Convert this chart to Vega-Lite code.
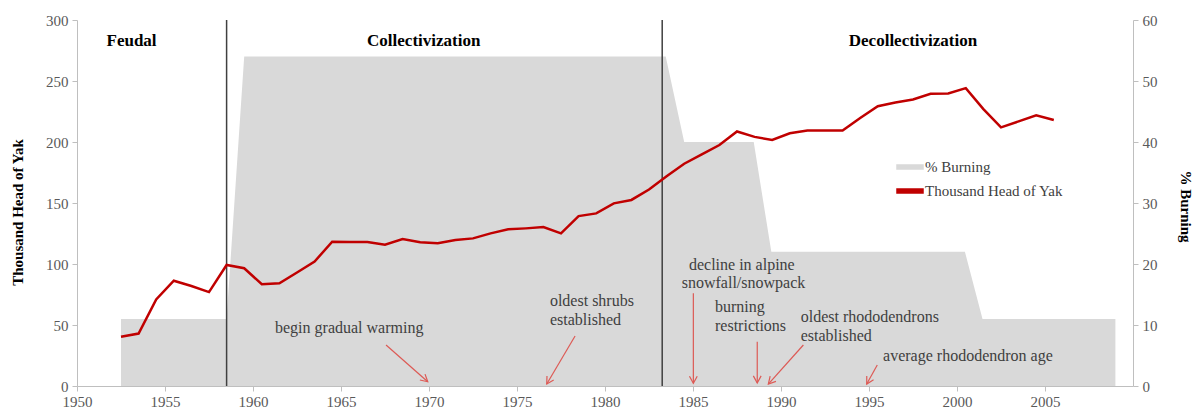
{
  "$schema": "https://vega.github.io/schema/vega-lite/v6.json",
  "width": 1056,
  "height": 366,
  "autosize": {"type": "none"},
  "padding": {"left": 77, "top": 20, "right": 61, "bottom": 28},
  "background": "white",
  "config": {
    "view": {"stroke": null},
    "font": "Liberation Serif",
    "axis": {
      "grid": false,
      "domainColor": "#bfbfbf",
      "tickColor": "#bfbfbf",
      "labelColor": "#595959",
      "labelFont": "Liberation Serif",
      "labelFontSize": 15,
      "titleFont": "Liberation Serif",
      "titleFontSize": 15,
      "titleColor": "#000000",
      "titleFontWeight": "bold",
      "tickSize": 5
    }
  },
  "datasets": {
    "burning": [
      {"year": 1952.5, "pct": 11},
      {"year": 1958.5, "pct": 11},
      {"year": 1959.5, "pct": 54},
      {"year": 1983.45, "pct": 54},
      {"year": 1984.5, "pct": 40},
      {"year": 1988.45, "pct": 40},
      {"year": 1989.45, "pct": 22},
      {"year": 2000.45, "pct": 22},
      {"year": 2001.45, "pct": 11},
      {"year": 2009.0, "pct": 11}
    ],
    "yak": [
      {"year": 1952.5, "yak": 40.4},
      {"year": 1953.5, "yak": 43},
      {"year": 1954.5, "yak": 71},
      {"year": 1955.5, "yak": 86.3},
      {"year": 1956.5, "yak": 82},
      {"year": 1957.5, "yak": 77},
      {"year": 1958.5, "yak": 99.2},
      {"year": 1959.5, "yak": 96.5},
      {"year": 1960.5, "yak": 83.4},
      {"year": 1961.5, "yak": 84.2},
      {"year": 1962.5, "yak": 93},
      {"year": 1963.5, "yak": 102},
      {"year": 1964.5, "yak": 118.3},
      {"year": 1965.5, "yak": 118},
      {"year": 1966.5, "yak": 118},
      {"year": 1967.5, "yak": 115.8},
      {"year": 1968.5, "yak": 120.5},
      {"year": 1969.5, "yak": 117.8},
      {"year": 1970.5, "yak": 117},
      {"year": 1971.5, "yak": 119.7},
      {"year": 1972.5, "yak": 121},
      {"year": 1973.5, "yak": 125.1},
      {"year": 1974.5, "yak": 128.4},
      {"year": 1975.5, "yak": 129.2},
      {"year": 1976.5, "yak": 130.3},
      {"year": 1977.5, "yak": 125.1},
      {"year": 1978.5, "yak": 139.3},
      {"year": 1979.5, "yak": 141.5},
      {"year": 1980.5, "yak": 149.7},
      {"year": 1981.5, "yak": 152.5},
      {"year": 1982.5, "yak": 161},
      {"year": 1983.5, "yak": 172},
      {"year": 1984.5, "yak": 182.2},
      {"year": 1985.5, "yak": 189.9},
      {"year": 1986.5, "yak": 197.5},
      {"year": 1987.5, "yak": 208.6},
      {"year": 1988.5, "yak": 204.2},
      {"year": 1989.5, "yak": 201.7},
      {"year": 1990.5, "yak": 207.2},
      {"year": 1991.5, "yak": 209.4},
      {"year": 1992.5, "yak": 209.4},
      {"year": 1993.5, "yak": 209.4},
      {"year": 1994.5, "yak": 219.7},
      {"year": 1995.5, "yak": 229.3},
      {"year": 1996.5, "yak": 232.3},
      {"year": 1997.5, "yak": 234.8},
      {"year": 1998.5, "yak": 239.5},
      {"year": 1999.5, "yak": 239.8},
      {"year": 2000.5, "yak": 244.2},
      {"year": 2001.5, "yak": 227},
      {"year": 2002.5, "yak": 212},
      {"year": 2003.5, "yak": 216.9},
      {"year": 2004.5, "yak": 221.9},
      {"year": 2005.5, "yak": 218}
    ],
    "dividers": [
      {"year": 1958.5},
      {"year": 1983.25}
    ],
    "arrows": [
      {"x": 1967.56, "y": 33.6, "x2": 1969.93, "y2": 3.5, "angle": -48.7},
      {"x": 1978.3, "y": 41, "x2": 1976.69, "y2": 1.6, "angle": 30.5},
      {"x": 1985.02, "y": 76, "x2": 1985.02, "y2": 2.2, "angle": 0},
      {"x": 1988.65, "y": 36.3, "x2": 1988.65, "y2": 2.5, "angle": 0},
      {"x": 1991.27, "y": 33.6, "x2": 1989.28, "y2": 1.6, "angle": 41.9},
      {"x": 1995.47, "y": 17.2, "x2": 1994.87, "y2": 1.6, "angle": 29.2}
    ],
    "periods": [
      {"x": 1953.1, "y": 282.8, "text": "Feudal"},
      {"x": 1969.7, "y": 282.8, "text": "Collectivization"},
      {"x": 1997.5, "y": 282.8, "text": "Decollectivization"}
    ],
    "notes": [
      {"x": 1961.25, "y": 47.5, "text": "begin gradual warming"},
      {"x": 1976.87, "y": 69.7, "text": "oldest shrubs"},
      {"x": 1976.87, "y": 54.1, "text": "established"},
      {"x": 1984.77, "y": 99.2, "text": "decline in alpine"},
      {"x": 1984.36, "y": 84.2, "text": "snowfall/snowpack"},
      {"x": 1986.25, "y": 65, "text": "burning"},
      {"x": 1986.25, "y": 49.2, "text": "restrictions"},
      {"x": 1991.12, "y": 56.3, "text": "oldest rhododendrons"},
      {"x": 1991.12, "y": 41, "text": "established"},
      {"x": 1995.8, "y": 24.6, "text": "average  rhododendron age"}
    ]
  },
  "layer": [
    {
      "data": {"name": "burning"},
      "mark": {"type": "area", "opacity": 1},
      "encoding": {
        "x": {
          "field": "year", "type": "quantitative",
          "scale": {"domain": [1950, 2010], "nice": false, "zero": false},
          "axis": {"title": null, "values": [1950, 1955, 1960, 1965, 1970, 1975, 1980, 1985, 1990, 1995, 2000, 2005], "format": "d", "labelPadding": 3, "labelFlush": false}
        },
        "y": {
          "field": "pct", "type": "quantitative",
          "scale": {"domain": [0, 60], "nice": false},
          "axis": {"orient": "right", "title": "% Burning", "values": [0, 10, 20, 30, 40, 50, 60], "labelPadding": 4, "titleAngle": 90, "titleX": 52, "titleY": 186, "titleAlign": "center", "titleBaseline": "middle"}
        },
        "color": {
          "datum": "% Burning",
          "type": "nominal",
          "scale": {"domain": ["% Burning", "Thousand Head of Yak"], "range": ["#d9d9d9", "#c00000"]},
          "legend": {
            "orient": "none", "legendX": 822, "legendY": 136, "title": null, "padding": 0,
            "labelFont": "Liberation Serif", "labelFontSize": 15, "labelColor": "#404040",
            "symbolSize": 400, "rowPadding": 5, "labelOffset": 4,
            "symbolType": "M-1.3,-0.2H1.3V0.2H-1.3Z"
          }
        }
      }
    },
    {
      "data": {"name": "dividers"},
      "mark": {"type": "rule", "color": "#404040", "strokeWidth": 1.5},
      "encoding": {
        "x": {
          "field": "year", "type": "quantitative",
          "axis": {"title": null, "values": [1950, 1955, 1960, 1965, 1970, 1975, 1980, 1985, 1990, 1995, 2000, 2005], "format": "d", "labelPadding": 3, "labelFlush": false}
        }
      }
    },
    {
      "data": {"name": "yak"},
      "mark": {"type": "line", "strokeWidth": 2.5},
      "encoding": {
        "x": {
          "field": "year", "type": "quantitative",
          "axis": {"title": null, "values": [1950, 1955, 1960, 1965, 1970, 1975, 1980, 1985, 1990, 1995, 2000, 2005], "format": "d", "labelPadding": 3, "labelFlush": false}
        },
        "y": {
          "field": "yak", "type": "quantitative",
          "scale": {"domain": [0, 300], "nice": false},
          "axis": {"orient": "left", "title": "Thousand Head of Yak", "values": [0, 50, 100, 150, 200, 250, 300], "labelPadding": 4, "titleAngle": -90, "titleX": -60, "titleY": 192, "titleAlign": "center", "titleBaseline": "middle"}
        },
        "color": {
          "datum": "Thousand Head of Yak",
          "type": "nominal",
          "scale": {"domain": ["% Burning", "Thousand Head of Yak"], "range": ["#d9d9d9", "#c00000"]}
        }
      }
    },
    {
      "data": {"name": "arrows"},
      "mark": {"type": "rule", "color": "#dd5a55", "strokeWidth": 1.2},
      "encoding": {
        "x": {
          "field": "x", "type": "quantitative",
          "axis": {"title": null, "values": [1950, 1955, 1960, 1965, 1970, 1975, 1980, 1985, 1990, 1995, 2000, 2005], "format": "d", "labelPadding": 3, "labelFlush": false}
        },
        "x2": {"field": "x2"},
        "y": {"field": "y", "type": "quantitative", "scale": {"domain": [0, 300], "nice": false}, "axis": null},
        "y2": {"field": "y2"}
      }
    },
    {
      "data": {"name": "arrows"},
      "mark": {"type": "point", "shape": "M-0.55,-1L0,0L0.55,-1", "filled": false, "color": "#dd5a55", "strokeWidth": 1.2, "size": 200, "opacity": 1},
      "encoding": {
        "x": {
          "field": "x2", "type": "quantitative",
          "axis": {"title": null, "values": [1950, 1955, 1960, 1965, 1970, 1975, 1980, 1985, 1990, 1995, 2000, 2005], "format": "d", "labelPadding": 3, "labelFlush": false}
        },
        "y": {"field": "y2", "type": "quantitative", "scale": {"domain": [0, 300], "nice": false}, "axis": null},
        "angle": {"field": "angle", "type": "quantitative", "scale": null}
      }
    },
    {
      "data": {"name": "periods"},
      "mark": {"type": "text", "font": "Liberation Serif", "fontSize": 17, "fontWeight": "bold", "color": "#000000", "align": "center", "baseline": "middle"},
      "encoding": {
        "x": {
          "field": "x", "type": "quantitative",
          "axis": {"title": null, "values": [1950, 1955, 1960, 1965, 1970, 1975, 1980, 1985, 1990, 1995, 2000, 2005], "format": "d", "labelPadding": 3, "labelFlush": false}
        },
        "y": {"field": "y", "type": "quantitative", "scale": {"domain": [0, 300], "nice": false}, "axis": null},
        "text": {"field": "text"}
      }
    },
    {
      "data": {"name": "notes"},
      "mark": {"type": "text", "font": "Liberation Serif", "fontSize": 16, "color": "#404040", "align": "left", "baseline": "middle"},
      "encoding": {
        "x": {
          "field": "x", "type": "quantitative",
          "axis": {"title": null, "values": [1950, 1955, 1960, 1965, 1970, 1975, 1980, 1985, 1990, 1995, 2000, 2005], "format": "d", "labelPadding": 3, "labelFlush": false}
        },
        "y": {"field": "y", "type": "quantitative", "scale": {"domain": [0, 300], "nice": false}, "axis": null},
        "text": {"field": "text"}
      }
    }
  ],
  "resolve": {"scale": {"y": "independent"}}
}
